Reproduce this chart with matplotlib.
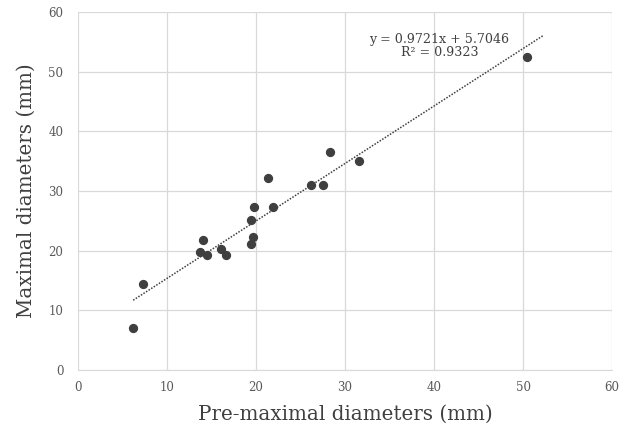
import numpy as np
import matplotlib.pyplot as plt

# pre-maximal vs maximal diameters (mm)
pre_diam = [6.2, 7.3, 13.7, 14.1, 14.5, 16.1, 16.6, 19.4, 19.7, 19.4, 19.8,
            21.3, 21.9, 26.2, 27.5, 28.3, 31.6, 50.5]
max_diam = [7.0, 14.4, 19.8, 21.8, 19.3, 20.2, 19.3, 21.2, 22.3, 25.2, 27.3,
            32.2, 27.3, 31.0, 31.0, 36.5, 35.1, 52.5]
eq_label = 'y = 0.9721x + 5.7046\nR² = 0.9323'

plt.rcParams['font.family'] = ['DejaVu Serif']

fig = plt.figure(figsize=(6.29, 4.30), dpi=100)
ax = fig.add_axes([0.124, 0.1395, 0.849, 0.8325])

ax.scatter(pre_diam, max_diam, s=32, color='#3f3f3f', zorder=3)

# linear trendline, extended a bit forward like the spreadsheet one
slope, icpt = np.polyfit(pre_diam, max_diam, 1)
xs = np.array([min(pre_diam), 52.3])
ax.plot(xs, slope * xs + icpt, linestyle=(0, (1, 1)), color='#3f3f3f', lw=1.1, zorder=2)

ax.text(40.6, 54.3, eq_label, ha='center', va='center', fontsize=9.1,
        color='#404040', linespacing=1.05)

ax.set_xlim(0, 60)
ax.set_ylim(0, 60)
ax.set_xticks(range(0, 61, 10))
ax.set_yticks(range(0, 61, 10))
ax.grid(True, color='#d9d9d9', lw=0.9)
ax.set_axisbelow(True)
for side in ['top', 'right', 'left']:
    ax.spines[side].set_visible(False)
ax.spines['bottom'].set_color('#d9d9d9')
ax.tick_params(axis='y', length=0, labelsize=8.5, colors='#595959', pad=10.5)
ax.tick_params(axis='x', length=0, labelsize=8.5, colors='#595959', pad=8)

ax.set_xlabel('Pre-maximal diameters (mm)', fontsize=14.3, color='#404040', labelpad=8)
ax.set_ylabel('Maximal diameters (mm)', fontsize=14.3, color='#404040', labelpad=9)

fig.savefig('out.png', dpi=100)
